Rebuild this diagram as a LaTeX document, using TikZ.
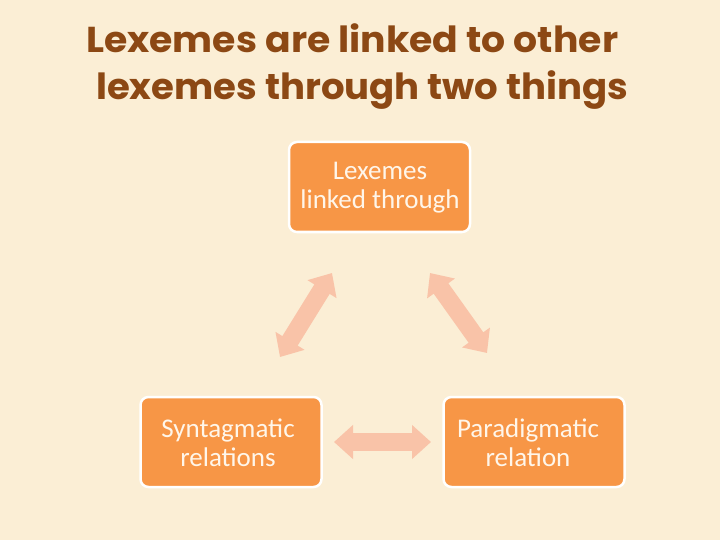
\documentclass[tikz,border=0pt]{standalone}
\usepackage{fontspec}
\usepackage{graphicx}
\usetikzlibrary{arrows.meta}
\newfontfamily\titlefont{Poppins}
\newfontfamily\boxfont{Carlito}
\definecolor{bgc}{HTML}{FBEED5}
\definecolor{titlec}{HTML}{8C4814}
\definecolor{boxc}{HTML}{F79646}
\definecolor{boxtextc}{HTML}{FFF6EA}
\definecolor{arrowc}{HTML}{F9C3A8}
\tikzset{
  titleline/.style={anchor=base west, inner sep=0pt, text=titlec, font=\titlefont\bfseries\fontsize{36}{40}\selectfont},
  stagebox/.style={draw=white, line width=2.5pt, fill=boxc, rounded corners=8pt, minimum width=181pt, minimum height=90pt, inner sep=0pt},
  stagetext/.style={text=boxtextc, align=center, inner sep=0pt, font=\boxfont\fontsize{27}{29}\selectfont},
  blockarrow/.style={draw=arrowc, line width=18pt, {Triangle[length=19pt,width=33pt]}-{Triangle[length=19pt,width=33pt]}}
}
\begin{document}
\begin{tikzpicture}[x=1pt,y=-1pt]
\fill[bgc] (0,0) rectangle (720,540);
\useasboundingbox (0,0) rectangle (720,540);
\node[titleline] (t1) at (86,53) {\resizebox{532pt}{\height}{Lexemes are linked to other}};
\node[titleline] (t2) at (96,100) {\resizebox{532pt}{\height}{lexemes through two things}};
\node[stagebox] (top) at (379.5,187) {};
\node[stagebox] (syn) at (231,442) {};
\node[stagebox] (par) at (534,442) {};
\node[stagetext] (toptext) at (380,188) {Lexemes\\linked through};
\node[stagetext] (syntext) at (228,443) {Syntagmatic\\relations};
\node[stagetext] (partext) at (528,443) {Paradigmatic\\relation};
\coordinate (a1s) at (280,357);
\coordinate (a1e) at (332,273);
\coordinate (a2s) at (430,273);
\coordinate (a2e) at (487,353);
\coordinate (a3s) at (334,442);
\coordinate (a3e) at (431,442);
\draw[blockarrow] (a1s) -- (a1e);
\draw[blockarrow] (a2s) -- (a2e);
\draw[blockarrow] (a3s) -- (a3e);
\end{tikzpicture}
\end{document}
